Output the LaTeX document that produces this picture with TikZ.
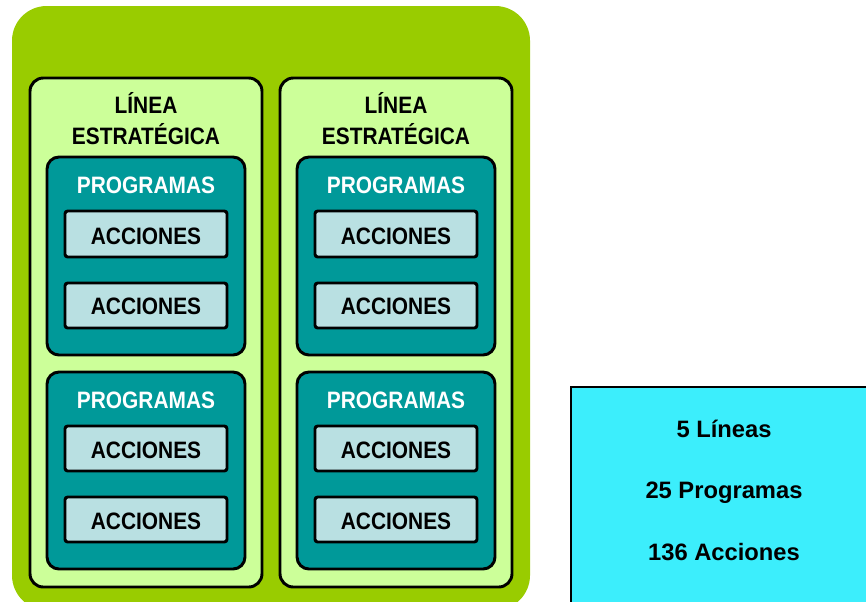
\documentclass[tikz,border=0pt]{standalone}
\usepackage{fontspec}
\setmainfont{Liberation Sans}[FakeStretch=0.88]
\newfontfamily\sumfont{Liberation Sans}
\usetikzlibrary{fit}
\definecolor{outergreen}{HTML}{99CC00}
\definecolor{linegreen}{HTML}{CCFF99}
\definecolor{teal}{HTML}{009999}
\definecolor{accblue}{HTML}{B9E0E2}
\definecolor{sumcyan}{HTML}{3CEEFC}
\tikzset{
  outerbox/.style={fill=outergreen, rounded corners=26pt, inner sep=0pt},
  linebox/.style={draw=black, fill=linegreen, line width=2.2pt, rounded corners=10pt, inner sep=0pt},
  progbox/.style={draw=black, fill=teal, line width=2.2pt, rounded corners=9pt, inner sep=0pt},
  accbox/.style={draw=black, fill=accblue, line width=2.2pt, rounded corners=2pt, inner sep=0pt},
  sumbox/.style={draw=black, fill=sumcyan, line width=1.6pt, inner sep=0pt},
  txt/.style={font=\fontsize{17.8}{22.5}\selectfont\bfseries, inner sep=0pt, anchor=base},
  wtxt/.style={txt, text=white},
  stxt/.style={font=\sumfont\fontsize{17.8}{22.5}\selectfont\bfseries, inner sep=0pt, anchor=base},
}
\begin{document}
\begin{tikzpicture}[x=0.75pt,y=-0.75pt]
\useasboundingbox (0,0) rectangle (866,601);
\node[outerbox, fit={(12,6)(530,610)}] (outer) {};
\node[sumbox, fit={(571,387)(880,612)}] (sum) {};
\node[stxt] (s1) at (724,437) {5 Líneas};
\node[stxt] (s2) at (724,498) {25 Programas};
\node[stxt] (s3) at (724,560) {136 Acciones};
\foreach \c/\n in {0/L,250/R}{
  \begin{scope}[xshift=\c*0.75pt]
    \node[linebox, fit={(30,78)(262,587)}] (line\n) {};
    \node[txt] (lineta\n) at (146,113) {LÍNEA};
    \node[txt] (linetb\n) at (146,144) {ESTRATÉGICA};
    \node[progbox, fit={(47,157)(245,355)}] (progA\n) {};
    \node[wtxt] (progAt\n) at (146,193) {PROGRAMAS};
    \node[accbox, fit={(65,211)(227,257)}] (accA\n) {};
    \node[txt] (accAt\n) at (146,244.5) {ACCIONES};
    \node[accbox, fit={(65,283)(227,328)}] (accB\n) {};
    \node[txt] (accBt\n) at (146,314.5) {ACCIONES};
    \node[progbox, fit={(47,372)(245,569)}] (progB\n) {};
    \node[wtxt] (progBt\n) at (146,408.5) {PROGRAMAS};
    \node[accbox, fit={(65,426)(227,471)}] (accC\n) {};
    \node[txt] (accCt\n) at (146,458.5) {ACCIONES};
    \node[accbox, fit={(65,497)(227,542)}] (accD\n) {};
    \node[txt] (accDt\n) at (146,529.5) {ACCIONES};
  \end{scope}
}
\end{tikzpicture}
\end{document}
